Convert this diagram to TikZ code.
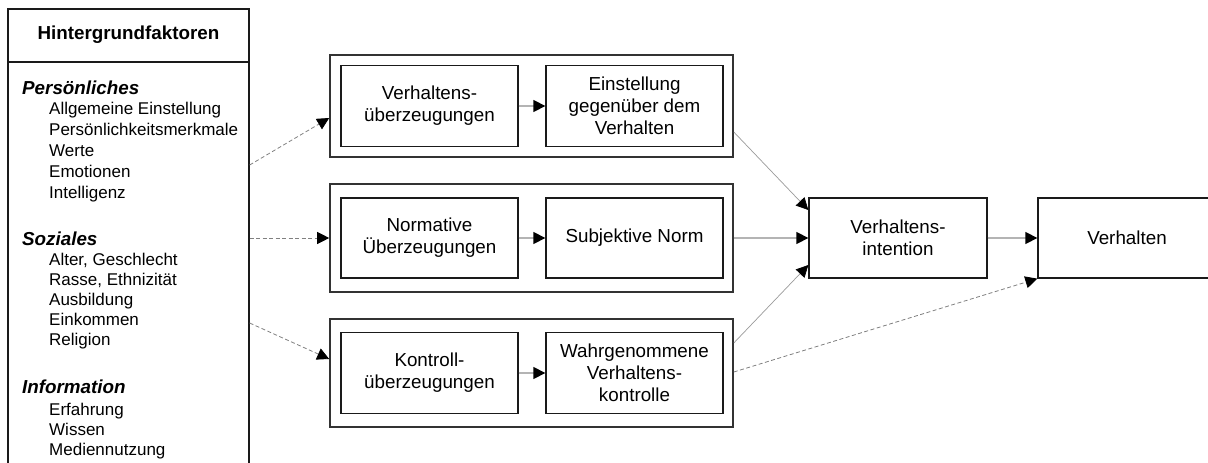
\documentclass[tikz,border=0pt]{standalone}
\usepackage{fontspec}
\setmainfont{Liberation Sans}
\usetikzlibrary{arrows.meta,calc}
\definecolor{boxline}{HTML}{1A1A1A}
\definecolor{outerline}{HTML}{333333}
\definecolor{conn}{HTML}{B4B4B4}
\definecolor{diag}{HTML}{9A9A9A}
\definecolor{dash}{HTML}{808080}
\begin{document}
\begin{tikzpicture}[x=1pt,y=-1pt,
  inbox/.style={draw=boxline,line width=1.3pt,minimum width=177pt,minimum height=81pt,inner sep=0pt,align=center,font=\fontsize{18.8}{22}\selectfont},
  outbox/.style={draw=outerline,line width=1.6pt,minimum width=403pt,inner sep=0pt},
  mainbox/.style={draw=boxline,line width=1.3pt,minimum width=178pt,minimum height=80pt,inner sep=0pt,align=center,font=\fontsize{18.8}{22}\selectfont},
  tip/.style={-{Triangle[length=12pt,width=12pt,color=black,fill=black]}},
  solidconn/.style={tip,draw=conn,line width=1.3pt},
  diagconn/.style={tip,draw=diag,line width=0.7pt},
  dashconn/.style={tip,draw=dash,line width=0.8pt,dash pattern=on 4pt off 2.5pt},
  head/.style={anchor=base west,inner sep=0pt,font=\fontsize{18.8}{22}\selectfont\bfseries\itshape},
  item/.style={anchor=base west,inner sep=0pt,font=\fontsize{17}{21}\selectfont}]
\useasboundingbox (0,0) rectangle (1208,463);
\begin{scope}
\clip (0,0) rectangle (1208,463);
% left box
\node[draw=boxline,line width=1.3pt,minimum width=241pt,minimum height=471pt,inner sep=0pt] (hf) at (128.5,244.5) {};
\coordinate (hl) at (8,62);
\coordinate (hr) at (249,62);
\draw[draw=boxline,line width=1.3pt] (hl) -- (hr);
\node[inner sep=0pt,font=\fontsize{18.8}{22}\selectfont\bfseries] (title) at (128.5,35) {Hintergrundfaktoren};
\node[head] (h1) at (22,94) {Persönliches};
\foreach \t [count=\i] in {Allgemeine Einstellung,Persönlichkeitsmerkmale,Werte,Emotionen,Intelligenz}
  \node[item] (a\i) at (49,93+21*\i) {\t};
\node[head] (h2) at (22,245) {Soziales};
\foreach \t [count=\i] in {{Alter, Geschlecht},{Rasse, Ethnizität},Ausbildung,Einkommen,Religion}
  \node[item] (b\i) at (49,246+19.8*\i) {\t};
\node[head] (h3) at (22,393) {Information};
\foreach \t [count=\i] in {Erfahrung,Wissen,Mediennutzung}
  \node[item] (c\i) at (49,395+20*\i) {\t};
% middle groups
\node[outbox,minimum height=102pt] (o1) at (531.5,106) {};
\node[inbox] (vu) at (429.5,106) {Verhaltens-\\überzeugungen};
\node[inbox] (ev) at (634.5,106) {Einstellung\\gegenüber dem\\Verhalten};
\node[outbox,minimum height=108pt] (o2) at (531.5,238) {};
\node[inbox,minimum height=80pt] (nu) at (429.5,238) {Normative\\Überzeugungen};
\node[inbox,minimum height=80pt] (sn) at (634.5,238) {Subjektive Norm};
\node[outbox,minimum height=108pt] (o3) at (531.5,373) {};
\node[inbox] (ku) at (429.5,373) {Kontroll-\\überzeugungen};
\node[inbox] (wv) at (634.5,373) {Wahrgenommene\\Verhaltens-\\kontrolle};
% right boxes
\node[mainbox] (vi) at (898,238) {Verhaltens-\\intention};
\node[mainbox] (vh) at (1127,238) {Verhalten};
% inner arrows
\draw[solidconn] (vu) -- (ev);
\draw[solidconn] (nu) -- (sn);
\draw[solidconn] (ku) -- (wv);
% from background
\draw[dashconn] ([yshift=79.5pt]hf.east) -- ([yshift=-12pt]o1.west);
\draw[dashconn] (hf.east |- o2.west) -- (o2.west);
\draw[dashconn] ([yshift=-78.5pt]hf.east) -- ([yshift=14pt]o3.west);
% to intention
\draw[diagconn] ([yshift=-26pt]o1.east) -- ([yshift=28pt]vi.west);
\draw[solidconn] (o2.east) -- (vi.west);
\draw[diagconn] ([yshift=30pt]o3.east) -- ([yshift=-27pt]vi.west);
\draw[solidconn] (vi) -- (vh);
\draw[dashconn] ([yshift=1pt]o3.east) -- (vh.south west);
\end{scope}
\end{tikzpicture}
\end{document}
